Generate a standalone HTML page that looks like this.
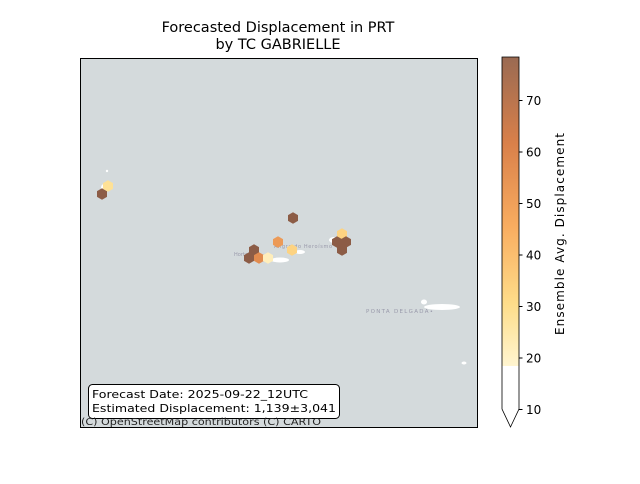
<!DOCTYPE html>
<html><head><meta charset="utf-8"><style>
body{margin:0;background:#fff;font-family:"DejaVu Sans","Liberation Sans",sans-serif}
</style></head><body>
<svg width="640" height="480" xmlns="http://www.w3.org/2000/svg" style="font-family:'DejaVu Sans','Liberation Sans',sans-serif">
<defs>
<linearGradient id="cg" x1="0" y1="1" x2="0" y2="0">
<stop offset="0" stop-color="#fff5d0"/>
<stop offset="0.2" stop-color="#fedd8a"/>
<stop offset="0.45" stop-color="#f9ad60"/>
<stop offset="0.72" stop-color="#d9804a"/>
<stop offset="1" stop-color="#9a6a52"/>
</linearGradient>
</defs>
<text x="278" y="32" text-anchor="middle" font-size="14.5">Forecasted Displacement in PRT</text>
<text x="278" y="49" text-anchor="middle" font-size="14.5">by TC GABRIELLE</text>
<rect x="80.5" y="58.5" width="397" height="369" fill="#d4dadc" stroke="#000" stroke-width="1"/>
<g fill="#fff">
<ellipse cx="107" cy="171" rx="1.2" ry="1.2"/>
<ellipse cx="104" cy="188" rx="3" ry="4"/>
<ellipse cx="280" cy="260" rx="9" ry="2.5"/>
<ellipse cx="300" cy="252" rx="5" ry="2"/>
<ellipse cx="334" cy="240" rx="5" ry="3"/>
<ellipse cx="442" cy="307" rx="18" ry="3"/>
<ellipse cx="424" cy="302" rx="3" ry="2.5"/>
<ellipse cx="464" cy="363" rx="2.5" ry="1.5"/>
</g>
<text x="234" y="256" font-size="5" fill="#99a">Horta</text>
<text x="274" y="248" font-size="5" fill="#99a" textLength="58">Angra do Heroísmo</text>
<text x="366" y="313" font-size="5.5" fill="#99a" textLength="67">PONTA DELGADA•</text>
<g id="hexes"></g>
<g>
<rect x="88.5" y="384.5" width="251" height="34" rx="4" fill="#fff" stroke="#000"/>
<text x="92" y="398" font-size="11" textLength="216" lengthAdjust="spacingAndGlyphs">Forecast Date: 2025-09-22_12UTC</text>
<text x="92" y="412" font-size="11" textLength="244" lengthAdjust="spacingAndGlyphs">Estimated Displacement: 1,139±3,041</text>
</g>
<text x="81" y="425" font-size="10" fill="#222" textLength="240" lengthAdjust="spacingAndGlyphs">(C) OpenStreetMap contributors (C) CARTO</text>
<g>
<rect x="502" y="57" width="17" height="309" fill="url(#cg)"/>
<path d="M502,366 L519,366 L519,409 L510.5,427 L502,409 Z" fill="#fff"/>
<path d="M502,57 L519,57 L519,409 L510.5,427 L502,409 Z" fill="none" stroke="#000" stroke-width="0.8"/>
<g id="cbticks" font-size="12"></g>
<text x="564" y="234" text-anchor="middle" font-size="12" transform="rotate(-90 564 234)" textLength="202">Ensemble Avg. Displacement</text>
</g>
</svg>
<script>
const hexX=[102,108,293,278,292,254,249,259,268,342,337,346,342];
const hexY=[194,186,218,242,250,250,258,258,258,234,242,242,250];
const hexVal=[78,28,78,52,33,78,78,58,22,33,78,78,78];
const cbTicks=[10,20,30,40,50,60,70];
function cy(v){return 409.5-(v-10)*51.5/10;}
const stops=[[18.5,[255,245,208]],[30,[254,221,138]],[45,[249,173,96]],[62,[217,128,74]],[78,[140,92,70]]];
function color(v){if(v<18.5)return '#fff';for(let i=1;i<stops.length;i++){if(v<=stops[i][0]){const a=stops[i-1],b=stops[i],t=(v-a[0])/(b[0]-a[0]);return 'rgb('+a[1].map((c,k)=>Math.round(c+(b[1][k]-c)*t)).join(',')+')';}}return 'rgb(140,92,70)';}
const NS='http://www.w3.org/2000/svg';
const g=document.getElementById('hexes');
const r=5.8;
for(let i=0;i<hexVal.length;i++){
  const p=document.createElementNS(NS,'polygon');
  let pts=[];for(let k=0;k<6;k++){const a=Math.PI/180*(60*k-90);pts.push((hexX[i]+r*Math.cos(a)).toFixed(1)+','+(hexY[i]+r*Math.sin(a)).toFixed(1));}
  p.setAttribute('points',pts.join(' '));
  p.setAttribute('fill',color(hexVal[i]));
  
  
  g.appendChild(p);
}
const tg=document.getElementById('cbticks');
cbTicks.forEach(t=>{
  const y=cy(t);
  const l=document.createElementNS(NS,'line');
  l.setAttribute('x1',519);l.setAttribute('x2',522.5);l.setAttribute('y1',y);l.setAttribute('y2',y);l.setAttribute('stroke','#000');
  
  
  tg.appendChild(l);
  const tx=document.createElementNS(NS,'text');
  tx.setAttribute('x',526);tx.setAttribute('y',y+4.5);tx.textContent=t;
  
  
  tg.appendChild(tx);
});
</script>
</body></html>
